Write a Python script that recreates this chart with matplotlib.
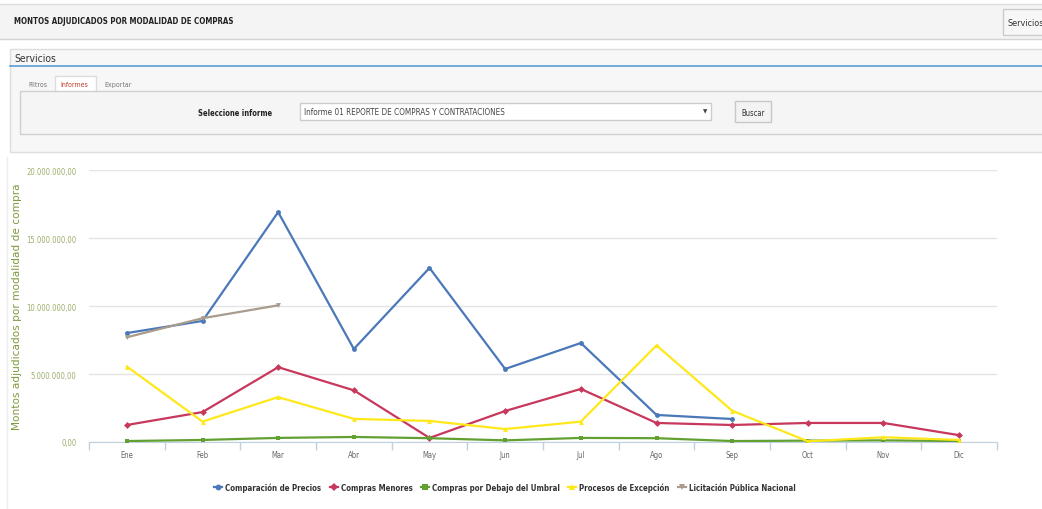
import matplotlib.pyplot as plt
from matplotlib.patches import Rectangle
from matplotlib.lines import Line2D
from matplotlib.font_manager import FontProperties
from matplotlib.ticker import FuncFormatter, FixedLocator

# data
meses = ["Ene", "Feb", "Mar", "Abr", "May", "Jun", "Jul", "Ago", "Sep", "Oct", "Nov", "Dic"]
comparacion_precios = [8.01e6, 8.9e6, 16.9e6, 6.84e6, 12.8e6, 5.37e6, 7.28e6, 1.99e6, 1.69e6]
compras_menores = [1.25e6, 2.2e6, 5.5e6, 3.8e6, 0.3e6, 2.28e6, 3.9e6, 1.4e6, 1.25e6, 1.4e6, 1.4e6, 0.5e6]
debajo_umbral = [0.07e6, 0.15e6, 0.3e6, 0.37e6, 0.28e6, 0.12e6, 0.3e6, 0.28e6, 0.07e6, 0.1e6, 0.12e6, 0.07e6]
procesos_excepcion = [5.55e6, 1.5e6, 3.3e6, 1.7e6, 1.55e6, 0.95e6, 1.5e6, 7.1e6, 2.3e6, 0.05e6, 0.35e6, 0.15e6]
licitacion_publica = [7.7e6, 9.1e6, 10.05e6]

series = [
    ("Comparación de Precios", comparacion_precios, "#4a78b8", "o"),
    ("Compras Menores", compras_menores, "#c8375c", "D"),
    ("Compras por Debajo del Umbral", debajo_umbral, "#62a032", "s"),
    ("Procesos de Excepción", procesos_excepcion, "#ffe81a", "^"),
    ("Licitación Pública Nacional", licitacion_publica, "#a89c8c", "v"),
]

W, H = 1042, 510

fig = plt.figure(figsize=(W / 100, H / 100), dpi=100)
fig.patch.set_facecolor("white")


def box(x, y, w, h, fc="none", ec="none", lw=1.0, z=0):
    # rectangle in screenshot pixel coords (origin top-left)
    fig.add_artist(Rectangle((x / W, 1 - (y + h) / H), w / W, h / H,
                             transform=fig.transFigure, facecolor=fc,
                             edgecolor=ec, linewidth=lw, zorder=z))


def hline(x0, x1, y, color, lw=1.0):
    fig.add_artist(Line2D([x0 / W, x1 / W], [1 - y / H, 1 - y / H],
                          transform=fig.transFigure, color=color, linewidth=lw))


def label(x, y, s, size=7, color="#333333", weight="normal", ha="left"):
    fig.text(x / W, 1 - y / H, s, fontsize=size, color=color, weight=weight,
             ha=ha, va="center", family="DejaVu Sans", stretch="condensed")


# page header
hline(0, W, 5, "#dddddd")
box(0, 5, W, 35, fc="#f4f4f4")
hline(0, W, 40, "#d4d4d4")
label(14, 22, "MONTOS ADJUDICADOS POR MODALIDAD DE COMPRAS", size=5.7, color="#222222", weight="bold")
box(1003, 10, 45, 26, fc="#f7f7f7", ec="#cccccc")
label(1007, 23, "Servicios", size=6.5, color="#333333")

# Servicios panel
box(10, 50, 1040, 103, fc="#f7f7f7", ec="#dddddd")
label(14, 59, "Servicios", size=7.5, color="#333333")
hline(10, W, 67, "#5b9bd5", lw=1.2)
box(55, 77, 41, 16, fc="white", ec="#dddddd")
label(28, 85, "Filtros", size=5, color="#777777")
label(60, 85, "Informes", size=5, color="#c0392b")
label(104, 85, "Exportar", size=5, color="#777777")
box(20, 92, 1030, 43, fc="#f5f5f5", ec="#d0d0d0")
label(272, 113, "Seleccione informe", size=5.5, color="#222222", weight="bold", ha="right")
box(300, 104, 411, 17, fc="white", ec="#cccccc")
label(304, 112.5, "Informe 01 REPORTE DE COMPRAS Y CONTRATACIONES", size=5.9, color="#444444")
label(705, 112, "▼", size=4.5, color="#444444", ha="center")
box(735, 102, 36, 21, fc="#f3f3f3", ec="#c8c8c8")
label(753, 113, "Buscar", size=5.5, color="#333333", ha="center")

# faint left border of chart container
fig.add_artist(Line2D([7 / W, 7 / W], [0, 1 - 158 / H], transform=fig.transFigure,
                      color="#eeeeee", linewidth=1))

# chart
ax = fig.add_axes([89 / W, 1 - 443 / H, (997 - 89) / W, (443 - 171) / H])
x = list(range(len(meses)))
for name, vals, color, mk in series:
    ax.plot(x[:len(vals)], vals, color=color, linewidth=1.6, marker=mk,
            markersize=3.5, markeredgewidth=0, label=name, zorder=3)

ax.set_xlim(-0.5, 11.5)
ax.set_ylim(0, 20e6)
ax.set_yticks([0, 5e6, 10e6, 15e6, 20e6])


def fmt(v, pos):
    s = f"{v:,.2f}"
    return s.replace(",", "X").replace(".", ",").replace("X", ".")


ax.yaxis.set_major_formatter(FuncFormatter(fmt))
ax.set_xticks(x)
ax.set_xticklabels(meses)
ax.xaxis.set_minor_locator(FixedLocator([i - 0.5 for i in range(13)]))
ax.tick_params(axis="x", which="major", length=0, labelsize=5.5, labelcolor="#666666", pad=6)
ax.tick_params(axis="x", which="minor", length=6, color="#c0d0e0", width=1)
ax.tick_params(axis="y", length=0, labelsize=5.5, labelcolor="#9aae6a", pad=9)
for t in ax.get_xticklabels() + ax.get_yticklabels():
    t.set_stretch("condensed")

ax.grid(axis="y", color="#e4e4e4", linewidth=1)
ax.set_axisbelow(True)
for side in ("top", "right", "left"):
    ax.spines[side].set_visible(False)
ax.spines["bottom"].set_color("#c0d0e0")

ax.set_ylabel("Montos adjudicados por modalidad de compra", fontsize=7.6,
              color="#7d9a3c")
ax.yaxis.set_label_coords(-67 / (997 - 89), 0.5)

leg_font = FontProperties(family="DejaVu Sans", stretch="condensed", weight="bold", size=5.7)
leg = fig.legend(loc="center", bbox_to_anchor=(505 / W, 1 - 488 / H), ncol=5,
                 frameon=False, prop=leg_font, handlelength=1.0, markerscale=1.2,
                 columnspacing=1.1, handletextpad=0.35)
for t in leg.get_texts():
    t.set_color("#333333")

fig.savefig("out.png", dpi=100)
